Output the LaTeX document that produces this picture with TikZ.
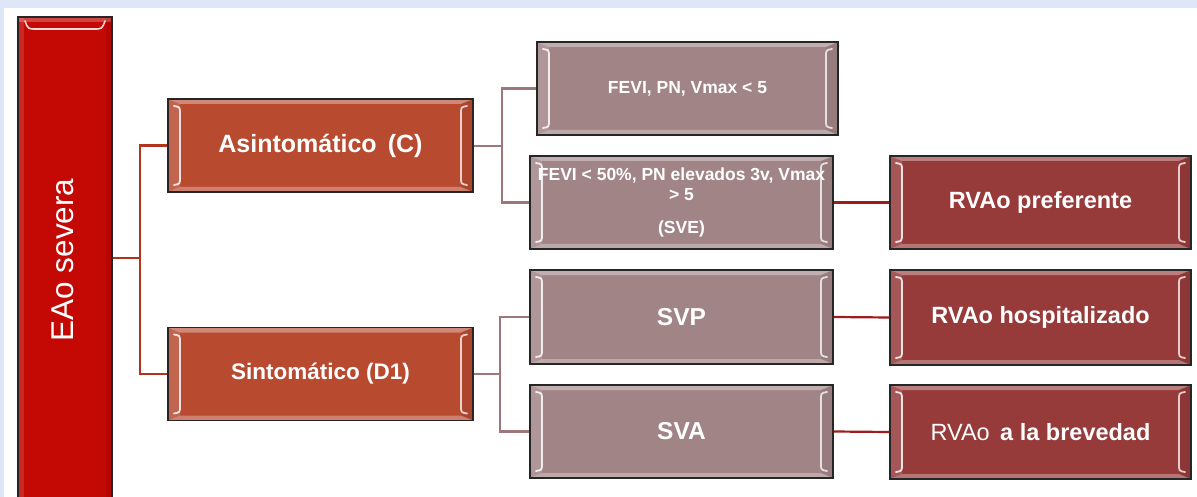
\documentclass[tikz,border=0pt]{standalone}
\usepackage{fontspec}
\setmainfont{Liberation Sans}
\usetikzlibrary{calc}
\definecolor{bgblue}{RGB}{221,231,247}
\definecolor{eared}{RGB}{196,8,4}
\definecolor{asinfill}{RGB}{184,74,48}
\definecolor{midfill}{RGB}{161,132,134}
\definecolor{rightfill}{RGB}{150,58,58}
\definecolor{conleft}{RGB}{178,52,28}
\definecolor{conmid}{RGB}{158,118,124}
\definecolor{conright}{RGB}{160,28,28}
\newcommand{\pbb}{path picture bounding box}
\tikzset{
  bevel/.style={path picture={
    \fill[white,opacity=.35] (\pbb.north west) -- (\pbb.north east) -- ([shift={(-12,5)}]\pbb.north east) -- ([shift={(12,5)}]\pbb.north west) -- cycle;
    \fill[white,opacity=.30] (\pbb.south west) -- (\pbb.south east) -- ([shift={(-12,-5)}]\pbb.south east) -- ([shift={(12,-5)}]\pbb.south west) -- cycle;
    \fill[white,opacity=.15] (\pbb.north west) -- ([shift={(12,5)}]\pbb.north west) -- ([shift={(12,-5)}]\pbb.south west) -- (\pbb.south west) -- cycle;
    \fill[black,opacity=.06] (\pbb.north east) -- ([shift={(-12,5)}]\pbb.north east) -- ([shift={(-12,-5)}]\pbb.south east) -- (\pbb.south east) -- cycle;
    \draw[white,opacity=.85,line width=1.8pt,line cap=round] ([shift={(6,7)}]\pbb.north west) .. controls ([shift={(12,8)}]\pbb.north west) .. ([shift={(12,15)}]\pbb.north west) -- ([shift={(12,-15)}]\pbb.south west) .. controls ([shift={(12,-8)}]\pbb.south west) .. ([shift={(6,-7)}]\pbb.south west);
    \draw[white,opacity=.75,line width=1.8pt,line cap=round] ([shift={(-6,7)}]\pbb.north east) .. controls ([shift={(-12,8)}]\pbb.north east) .. ([shift={(-12,15)}]\pbb.north east) -- ([shift={(-12,-15)}]\pbb.south east) .. controls ([shift={(-12,-8)}]\pbb.south east) .. ([shift={(-6,-7)}]\pbb.south east);
  }},
  topbevel/.style={path picture={
    \draw[white,opacity=.85,line width=1.6pt,line cap=round] ([shift={(7,4)}]\pbb.north west) .. controls ([shift={(10,12)}]\pbb.north west) .. ([shift={(18,12)}]\pbb.north west) -- ([shift={(-18,12)}]\pbb.north east) .. controls ([shift={(-10,12)}]\pbb.north east) .. ([shift={(-7,4)}]\pbb.north east);
    \fill[white,opacity=.25] (\pbb.north west) rectangle ([shift={(0,5)}]\pbb.north east);
    \fill[white,opacity=.12] (\pbb.north west) rectangle ([shift={(6,0)}]\pbb.south west);
    \fill[black,opacity=.08] (\pbb.north east) rectangle ([shift={(-6,0)}]\pbb.south east);
  }},
  box/.style={draw=black!85, line width=1.3pt, inner sep=0pt, text=white, font=\bfseries, align=center},
  lvl1/.style={box, bevel, fill=asinfill, minimum width=305pt, minimum height=93pt, font=\bfseries\fontsize{25}{28}\selectfont},
  lvl2/.style={box, bevel, fill=midfill, minimum width=303pt, minimum height=93pt},
  lvl3/.style={box, bevel, fill=rightfill, minimum width=301pt, minimum height=93pt, font=\bfseries\fontsize{23.5}{28}\selectfont},
  conL/.style={draw=conleft, line width=2.2pt},
  conM/.style={draw=conmid, line width=2.2pt},
  conR/.style={draw=conright, line width=2.2pt},
}
\begin{document}
\begin{tikzpicture}[x=1pt,y=-1pt]
\useasboundingbox (0,0) rectangle (1197,497);
\clip (0,0) rectangle (1197,497);
\fill[bgblue] (0,0) rectangle (1197,497);
\fill[white] (4,8) rectangle (1197,497);

\node[box, topbevel, fill=eared, minimum width=94pt, minimum height=486pt] (ea) at (65,260) {};
\node[rotate=90, text=white, font=\fontsize{31.5}{34}\selectfont] (eat) at (63,260) {EAo severa};

\node[lvl1] (asin) at (320.5,145.5) {Asintomático\,\ (C)};
\node[lvl1, font=\bfseries\fontsize{22.5}{26}\selectfont] (sint) at (320.5,374) {Sintomático (D1)};

\node[lvl2, minimum width=301pt, font=\bfseries\fontsize{17.5}{20}\selectfont] (f1) at (687.5,88.5) {FEVI, PN, Vmax < 5};
\node[lvl2, font=\bfseries\fontsize{17.5}{20}\selectfont] (f2) at (681.5,202.5) {FEVI < 50\%, PN elevados 3v, Vmax\\> 5\\[13pt](SVE)};
\node[lvl2, minimum height=94pt, font=\bfseries\fontsize{24.5}{28}\selectfont] (svp) at (681.5,317) {SVP};
\node[lvl2, font=\bfseries\fontsize{24.5}{28}\selectfont] (sva) at (681.5,431.5) {SVA};

\node[lvl3] (rp) at (1040.5,202.5) {RVAo preferente};
\node[lvl3, minimum height=95pt] (rh) at (1040.5,317.5) {RVAo hospitalizado};
\node[lvl3, minimum height=94pt] (rb) at (1040.5,432) {{\mdseries RVAo}\, a la brevedad};

\coordinate (j1) at (140,258);
\coordinate (j2) at (502,146);
\coordinate (j3) at (500,374);

\draw[conL] (ea.east |- j1) -- (j1);
\draw[conL] (asin.west) -| (j1);
\draw[conL] (sint.west) -| (j1);

\draw[conM] (asin.east |- j2) -- (j2);
\draw[conM] (f1.west) -| (j2);
\draw[conM] (f2.west) -| (j2);

\draw[conM] (sint.east) -- (j3);
\draw[conM] (svp.west) -| (j3);
\draw[conM] (sva.west) -| (j3);

\draw[conR] (f2.east) -- (rp.west);
\draw[conR] (svp.east) -- (rh.west);
\draw[conR] (sva.east) -- (rb.west);
\end{tikzpicture}
\end{document}
